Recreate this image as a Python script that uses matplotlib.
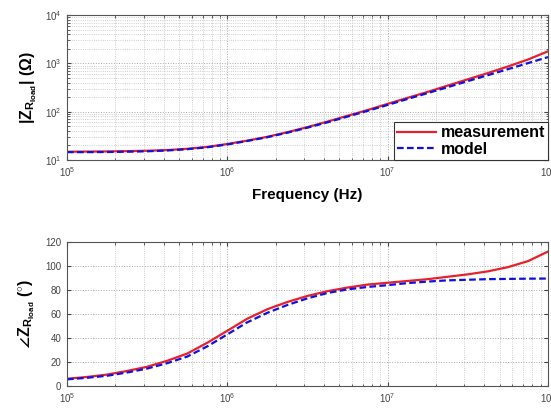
import matplotlib
matplotlib.use("Agg")
import matplotlib.pyplot as plt
import numpy as np
from matplotlib.ticker import LogLocator, FixedLocator

plt.rcParams['font.family'] = ['Liberation Sans', 'DejaVu Sans']
plt.rcParams['mathtext.fontset'] = 'custom'
plt.rcParams['mathtext.rm'] = 'Liberation Sans'
plt.rcParams['mathtext.bf'] = 'Liberation Sans:bold'
plt.rcParams['mathtext.it'] = 'Liberation Sans:italic'

# frequency points (Hz), 1/8 decade apart
freq = [1.0e5, 1.33e5, 1.78e5, 2.37e5, 3.16e5, 4.22e5, 5.62e5, 7.50e5,
        1.0e6, 1.33e6, 1.78e6, 2.37e6, 3.16e6, 4.22e6, 5.62e6, 7.50e6,
        1.0e7, 1.33e7, 1.78e7, 2.37e7, 3.16e7, 4.22e7, 5.62e7, 7.50e7, 1.0e8]

mag_meas = [14.8, 14.9, 15.0, 15.2, 15.5, 16.0, 17.0, 18.6,
            21.4, 25.1, 30.2, 37.6, 47.9, 62.4, 82.2, 108,
            145, 193, 257, 347, 468, 631, 861, 1202, 1778]
mag_model = [14.5, 14.5, 14.6, 14.8, 15.1, 15.7, 16.7, 18.3,
             20.9, 24.7, 29.6, 36.7, 46.6, 60.3, 79.1, 104,
             138, 183, 243, 322, 429, 570, 759, 1012, 1349]

ph_meas = [6, 7.5, 9.5, 12.5, 16, 21, 27, 36,
           46, 56, 64, 70, 75, 79, 82, 84.5,
           86, 87.5, 89, 91, 93, 95.5, 99, 104, 112]
ph_model = [5.5, 6.8, 8.5, 11.2, 14.5, 19, 24.5, 33,
            43, 53, 61, 67.5, 73, 77.5, 80.5, 82.5,
            84, 85.7, 87, 88, 88.5, 89, 89.2, 89.4, 89.5]

labels = ["measurement", "model"]

fig = plt.figure(figsize=(5.51, 4.08), dpi=100)
ax1 = fig.add_axes([0.1216, 0.608, 0.8730, 0.355])
ax2 = fig.add_axes([0.1216, 0.054, 0.8730, 0.353])

def style(ax):
    ax.set_xscale('log')
    ax.set_xlim(1e5, 1e8)
    ax.grid(True, which='major', linestyle=':', color='#a8a8a8', linewidth=0.7)
    ax.grid(True, which='minor', linestyle=':', color='#c0c0c0', linewidth=0.6)
    ax.tick_params(which='both', direction='in', top=True, right=True,
                   labelsize=7, colors='#444444', pad=4)
    ax.tick_params(which='major', length=3)
    ax.tick_params(which='minor', length=1.8)
    for s in ax.spines.values():
        s.set_color('#555555')
        s.set_linewidth(0.8)
    ax.xaxis.set_major_locator(FixedLocator([1e5, 1e6, 1e7, 1e8]))
    ax.xaxis.set_minor_locator(LogLocator(base=10, subs=np.arange(2, 10)))

# magnitude
ax1.plot(freq, mag_meas, '-', color='#e8202a', linewidth=1.6, label=labels[0])
ax1.plot(freq, mag_model, '--', color='#1010e0', linewidth=1.6, dashes=(3, 1.5), label=labels[1])
ax1.set_yscale('log')
ax1.set_ylim(10, 1e4)
style(ax1)
ax1.yaxis.set_minor_locator(LogLocator(base=10, subs=np.arange(2, 10)))
ax1.set_xlabel('Frequency (Hz)', fontsize=11, fontweight='bold', labelpad=6)
ax1.set_ylabel(r'$\mathbf{|Z_{R_{load}}|}$ $\mathbf{(\Omega)}$', fontsize=11.5)
leg = ax1.legend(loc='lower right', prop={'weight': 'bold', 'size': 11.5},
                 frameon=True, fancybox=False, edgecolor='#333333', framealpha=1,
                 handlelength=2.4, handletextpad=0.3, borderpad=0.2, labelspacing=0.1,
                 borderaxespad=0.0)
leg.get_frame().set_linewidth(0.8)

# phase
ax2.plot(freq, ph_meas, '-', color='#e8202a', linewidth=1.6)
ax2.plot(freq, ph_model, '--', color='#1010e0', linewidth=1.6, dashes=(3, 1.5))
ax2.set_ylim(0, 120)
ax2.set_yticks(np.arange(0, 121, 20))
style(ax2)
ax2.set_ylabel(r'$\mathbf{\angle Z_{R_{load}}}$ $\mathbf{(^{\circ})}$', fontsize=11.5, labelpad=6)

fig.savefig('out.png', dpi=100)
